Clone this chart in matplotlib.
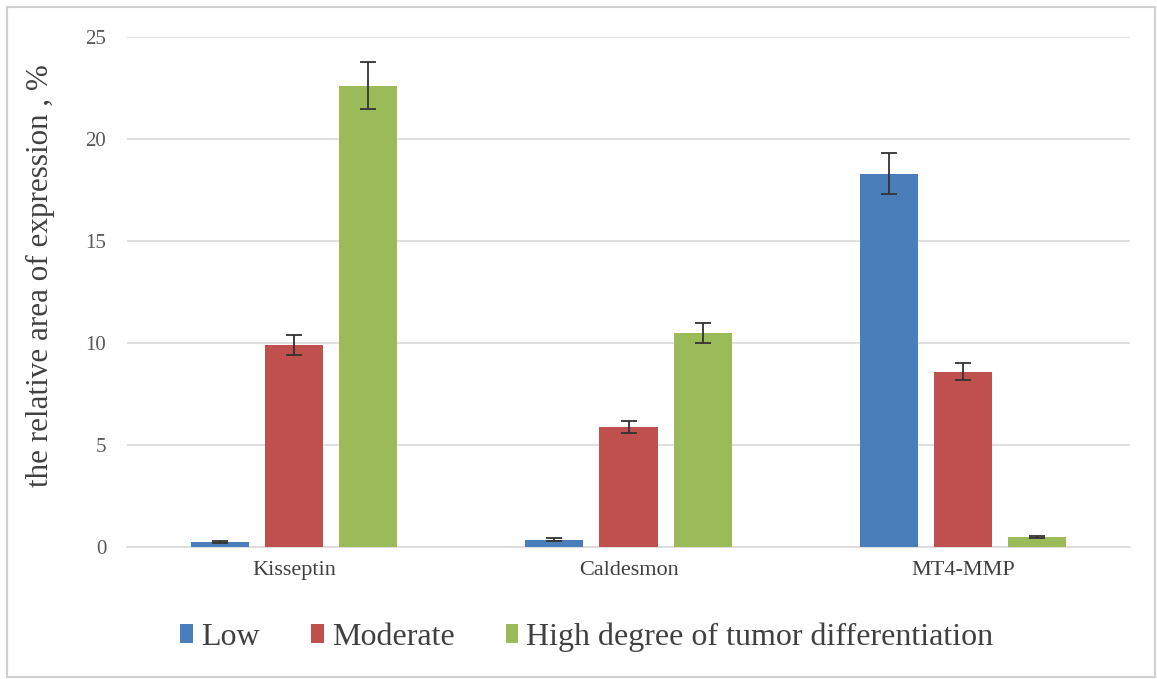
import matplotlib
matplotlib.use("Agg")
import matplotlib.pyplot as plt
import numpy as np
from matplotlib.patches import Rectangle

categories = ["Kisseptin", "Caldesmon", "MT4-MMP"]
series_names = ["Low", "Moderate", "High degree of tumor differentiation"]
low = [0.25, 0.35, 18.3]
moderate = [9.9, 5.9, 8.6]
high = [22.6, 10.5, 0.5]
low_err = [0.05, 0.07, 1.0]
moderate_err = [0.5, 0.3, 0.4]
high_err = [1.15, 0.5, 0.05]
yticks = [0, 5, 10, 15, 20, 25]

colors = ["#4a7ebb", "#c0504d", "#9bbb59"]

plt.rcParams['font.family'] = ['Liberation Serif', 'DejaVu Serif']

W, H = 1157, 679
fig = plt.figure(figsize=(W / 100, H / 100), dpi=100)
fig.patches.append(Rectangle((7 / W, 2 / H), 1148 / W, 670 / H, transform=fig.transFigure,
                             fill=False, edgecolor="#d0d0d0", linewidth=1.5))
ax = fig.add_axes([127 / W, 1 - 547 / H, (1130 - 127) / W, (547 - 37) / H])

x = np.arange(len(categories))
step = 0.222
width = 0.174
data = [low, moderate, high]
errs = [low_err, moderate_err, high_err]
for i, (vals, er, c, name) in enumerate(zip(data, errs, colors, series_names)):
    ax.bar(x + (i - 1) * step, vals, width, color=c, label=name, zorder=3,
           yerr=er, error_kw=dict(ecolor="#333333", elinewidth=1.3, capsize=6, capthick=1.3, zorder=4))

ax.set_xlim(-0.5, 2.5)
ax.set_ylim(0, 25)
ax.set_yticks(yticks)
ax.set_xticks(x)
ax.set_xticklabels(categories, fontsize=16, color="#404040")
ax.tick_params(axis='y', labelsize=15, labelcolor="#595959", length=0, pad=15)
ax.tick_params(axis='x', length=0, pad=10)
ax.grid(axis='y', color="#d9d9d9", linewidth=1.2, zorder=0)
for s in ["top", "right", "left"]:
    ax.spines[s].set_visible(False)
ax.spines["bottom"].set_color("#d9d9d9")
ax.spines["bottom"].set_linewidth(1.2)
ax.set_ylabel("the relative area of expression , %", fontsize=22.4, color="#404040")
ax.yaxis.set_label_coords(-0.072, 0.533)

leg = fig.legend(loc="center", bbox_to_anchor=(587 / W, 1 - 637 / H), ncol=3, frameon=False,
                 fontsize=23, handlelength=0.4, handleheight=0.5, handletextpad=0.25,
                 columnspacing=1.6)
for t in leg.get_texts():
    t.set_color("#404040")

fig.savefig("out.png", dpi=100)
